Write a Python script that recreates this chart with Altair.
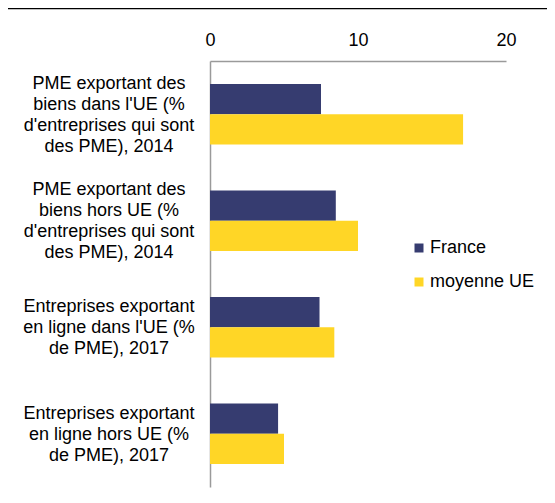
import altair as alt
import pandas as pd

categories = [
    "PME exportant des\nbiens dans l'UE (%\nd'entreprises qui sont\ndes PME), 2014",
    "PME exportant des\nbiens hors UE (%\nd'entreprises qui sont\ndes PME), 2014",
    "Entreprises exportant\nen ligne dans l'UE (%\nde PME), 2017",
    "Entreprises exportant\nen ligne hors UE (%\nde PME), 2017",
]
series = ["France", "moyenne UE"]
france = [7.5, 8.5, 7.4, 4.6]
moyenne_ue = [17.1, 10.0, 8.4, 5.0]
colors = ["#363c70", "#ffd626"]
x_ticks = [0, 10, 20]

rows = []
for c, f, u in zip(categories, france, moyenne_ue):
    rows.append({"cat": c, "serie": series[0], "val": f})
    rows.append({"cat": c, "serie": series[1], "val": u})
df = pd.DataFrame(rows)
cat_df = pd.DataFrame({"cat": categories})

FONT = "Liberation Sans"
LH = 21

y_enc = alt.Y(
    "cat:N",
    sort=categories,
    scale=alt.Scale(paddingInner=0.43, paddingOuter=0.215),
    axis=alt.Axis(
        title=None,
        labels=False,
        ticks=False,
        tickSize=0,
        domainColor="#9a9a9a",
        domainWidth=1.5,
    ),
)

bars = alt.Chart(df).mark_bar().encode(
    y=y_enc,
    yOffset=alt.YOffset("serie:N", sort=series, scale=alt.Scale(paddingInner=0, paddingOuter=0)),
    x=alt.X(
        "val:Q",
        scale=alt.Scale(domain=[0, 20], nice=False),
        axis=alt.Axis(
            title=None,
            orient="top",
            values=x_ticks,
            grid=False,
            ticks=False,
            tickSize=0,
            labelFlush=False,
            labelPadding=21,
            labelBaseline="middle",
            labelFontSize=18,
            labelFont=FONT,
            labelColor="#000000",
            domainColor="#9a9a9a",
            domainWidth=1.5,
        ),
    ),
    color=alt.Color(
        "serie:N",
        sort=series,
        scale=alt.Scale(domain=series, range=colors),
        legend=alt.Legend(
            title=None,
            orient="none",
            legendX=200,
            legendY=178,
            symbolType="square",
            symbolSize=81,
            symbolStrokeWidth=0,
            labelFontSize=18,
            labelFont=FONT,
            labelColor="#000000",
            labelOffset=2,
            rowPadding=16,
            padding=0,
        ),
    ),
)

labels = alt.Chart(cat_df).mark_text(
    align="center",
    baseline="middle",
    lineBreak="\n",
    lineHeight=LH,
    fontSize=18,
    font=FONT,
    color="#000000",
    dy=alt.expr("-(length(split(datum.cat, '\\n')) - 1) * %s / 2 + 1" % LH),
).encode(
    y=alt.Y("cat:N", sort=categories),
    x=alt.value(-101),
    text="cat:N",
)

line_df = pd.DataFrame({"k": [0]})
top_line = alt.Chart(line_df).mark_rule(color="#000000", strokeWidth=1.3).encode(
    x=alt.value(-202), x2=alt.value(337), y=alt.value(-52.3)
)

chart = alt.layer(bars, labels, top_line).properties(
    width=296,
    height=426,
    autosize=alt.AutoSizeParams(type="none"),
    padding={"left": 202, "top": 53, "right": 41, "bottom": 8},
).configure_view(stroke=None)

chart.save("out.html", embed_options={"renderer": "svg", "actions": False})
